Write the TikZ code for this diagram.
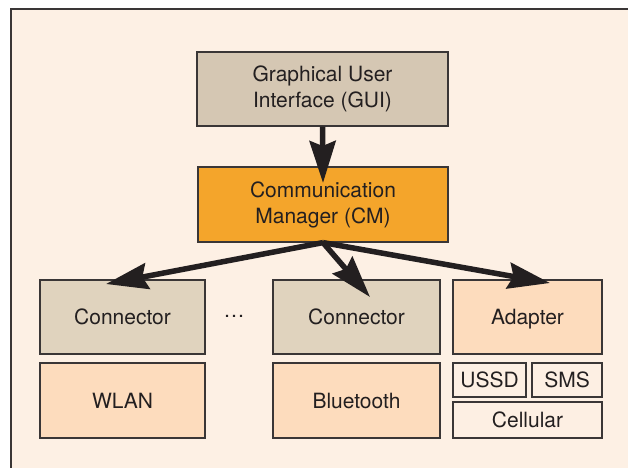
\documentclass[tikz,border=0pt]{standalone}
\usepackage{fontspec}
\setmainfont{TeX Gyre Heros}
\usetikzlibrary{arrows.meta}
\definecolor{bgc}{HTML}{FDF0E4}
\definecolor{guic}{HTML}{D5C7B3}
\definecolor{cmc}{HTML}{F4A52B}
\definecolor{conc}{HTML}{E0D3BE}
\definecolor{peachc}{HTML}{FDDCBD}
\definecolor{smallc}{HTML}{FDEFE3}
\definecolor{edgec}{HTML}{3A3636}
\definecolor{txtc}{HTML}{231F20}
\begin{document}
\begin{tikzpicture}[x=1pt,y=-1pt,
  blk/.style={draw=edgec,line width=1.2pt,inner sep=0pt,text=txtc,
    font=\fontsize{21}{26}\selectfont,align=center},
  bigarrow/.style={draw=txtc,line width=5.5pt,
    -{Stealth[length=42pt,width=26pt,inset=5pt]}}]
\useasboundingbox (0,0) rectangle (628,467);
\clip (0,0) rectangle (628,467);
\fill[white] (0,0) rectangle (628,467);
\fill[bgc] (11,9) rectangle (640,480);
\draw[edgec,line width=1.5pt] (11,480) -- (11,9) -- (640,9);

\node[blk,fill=guic,minimum width=251pt,minimum height=74pt] (gui) at (322.5,89) {Graphical User\\Interface (GUI)};
\node[blk,fill=cmc,minimum width=250pt,minimum height=75pt] (cm) at (323,204.5) {Communication\\Manager (CM)};
\node[blk,fill=conc,minimum width=165pt,minimum height=74pt] (con1) at (122.5,317) {Connector};
\node[blk,fill=conc,minimum width=167pt,minimum height=74pt] (con2) at (356.5,317) {Connector};
\node[blk,fill=peachc,minimum width=149pt,minimum height=74pt,text height=15pt,text depth=0pt] (adp) at (527.5,317) {Adapter};
\node[blk,fill=peachc,minimum width=165pt,minimum height=75pt] (wlan) at (122.5,400.5) {WLAN};
\node[blk,fill=peachc,minimum width=167pt,minimum height=75pt] (bt) at (356.5,400.5) {Bluetooth};
\node[blk,fill=smallc,minimum width=73pt,minimum height=34pt] (ussd) at (489.5,380) {USSD};
\node[blk,fill=smallc,minimum width=70pt,minimum height=34pt] (sms) at (567,380) {SMS};
\node[blk,fill=smallc,minimum width=149pt,minimum height=36pt] (cell) at (527.5,420) {Cellular};
\node[text=txtc,font=\fontsize{21}{26}\selectfont,inner sep=0pt] (dots) at (234,316) {…};

\coordinate (tcm) at (323,183);
\coordinate (t1) at (106,284);
\coordinate (t2) at (370,297);
\coordinate (t3) at (550,283);
\draw[bigarrow] (gui.south) -- (tcm);
\draw[bigarrow] (cm.south) -- (t1);
\draw[bigarrow] (cm.south) -- (t2);
\draw[bigarrow] (cm.south) -- (t3);
\end{tikzpicture}
\end{document}
